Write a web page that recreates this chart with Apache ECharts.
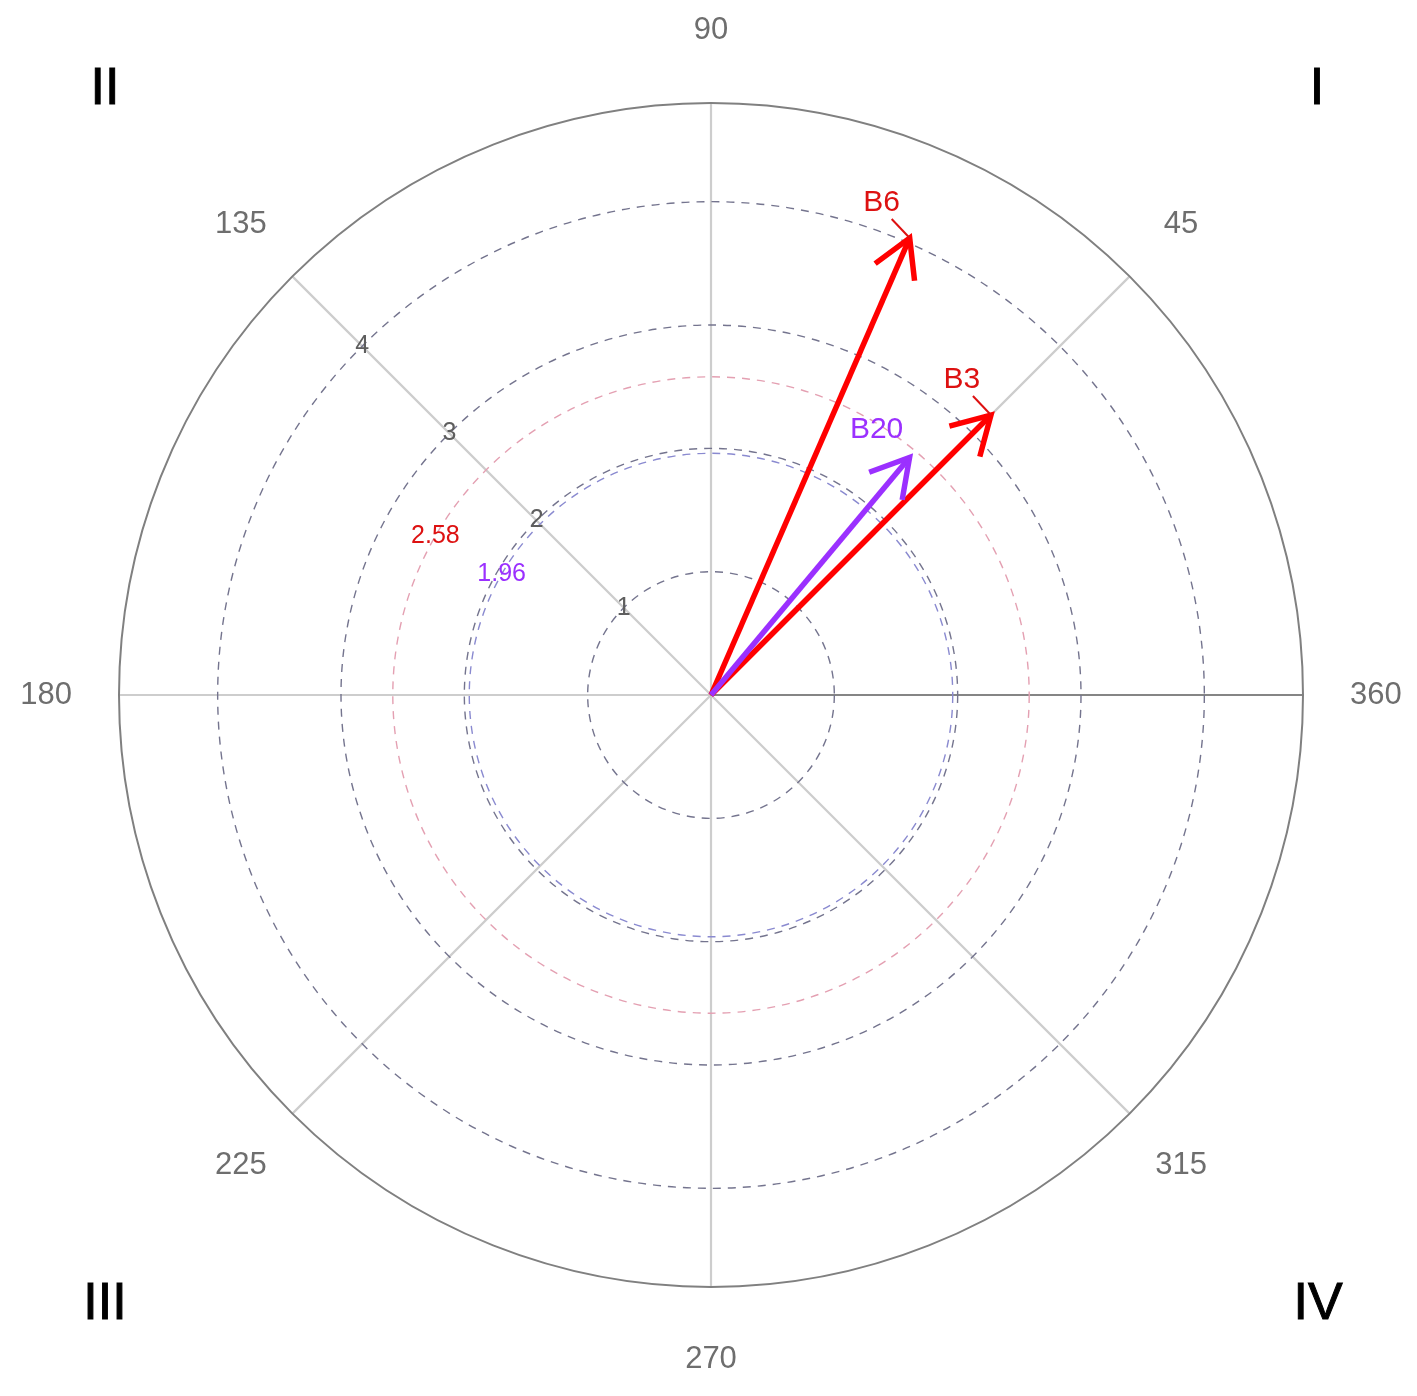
<!DOCTYPE html>
<html>
<head>
<meta charset="utf-8">
<script src="https://cdn.jsdelivr.net/npm/echarts@6/dist/echarts.min.js"></script>
<style>
html, body { margin: 0; padding: 0; background: #fff; }
#chart { width: 1417px; height: 1396px; }
</style>
</head>
<body>
<div id="chart"></div>
<script>
// data
var angleTicks = [45, 90, 135, 180, 225, 270, 315, 360];
var radiusTicks = [1, 2, 3, 4];
var critValues = [1.96, 2.58];
var critLabels = ['1.96', '2.58'];
var vecNames = ['B6', 'B3', 'B20'];
var vecLength = [4.04, 3.21, 2.51];
var vecAngle = [66.5, 45, 50.1];
var quadrants = ['I', 'II', 'III', 'IV'];

var FONT = '"Liberation Sans", Arial, sans-serif';
var critColor = ['#8a8ad0', '#e4a0b2'];
var critTextColor = ['#9b30ff', '#dd1111'];
var vecColor = ['#ff0000', '#ff0000', '#9b30ff'];
var vecTextColor = ['#dd1111', '#dd1111', '#9b30ff'];
var vecLabelOff = [[-28, -35], [-29, -35], [-33, -28]];
var vecLeader = [true, true, false];

var myChart = echarts.init(document.getElementById('chart'));

function ringItem(color) {
    return function (params, api) {
        var c = api.coord([0, 0]);
        var e = api.coord([api.value(0), 0]);
        return {
            type: 'circle',
            shape: { cx: c[0], cy: c[1], r: Math.abs(e[0] - c[0]) },
            style: { fill: 'none', stroke: typeof color === 'function' ? color(params.dataIndex) : color, lineWidth: 1.4, lineDash: [8, 7] },
            silent: true
        };
    };
}

function textItem(colorFn, size, labels) {
    return function (params, api) {
        var p = api.coord([api.value(0), api.value(1)]);
        return {
            type: 'text',
            x: p[0], y: p[1],
            style: {
                text: labels[params.dataIndex],
                fill: colorFn(params.dataIndex),
                font: size + 'px ' + FONT,
                align: 'center', verticalAlign: 'middle'
            },
            silent: true
        };
    };
}

var option = {
    animation: false,
    backgroundColor: '#ffffff',
    polar: { center: [711, 695], radius: 592 },
    angleAxis: {
        type: 'value', min: 0, max: 360, interval: 45,
        startAngle: 0, clockwise: false,
        axisLine: { lineStyle: { color: '#808080', width: 2 } },
        axisTick: { show: false },
        axisLabel: { show: false },
        splitLine: { show: true, lineStyle: { color: '#cdcdcd', width: 2.2 } }
    },
    radiusAxis: {
        type: 'value', min: 0, max: 4.8,
        axisLine: { lineStyle: { color: '#858585', width: 2 } },
        axisTick: { show: false },
        axisLabel: { show: false },
        splitLine: { show: false }
    },
    graphic: [
        { type: 'text', x: 1317, y: 90, style: { text: quadrants[0], font: '52px ' + FONT, fill: '#000', align: 'center', verticalAlign: 'middle', stroke: '#000', lineWidth: 1 } },
        { type: 'text', x: 105, y: 90, style: { text: quadrants[1], font: '52px ' + FONT, fill: '#000', align: 'center', verticalAlign: 'middle', stroke: '#000', lineWidth: 1 } },
        { type: 'text', x: 105, y: 1305, style: { text: quadrants[2], font: '52px ' + FONT, fill: '#000', align: 'center', verticalAlign: 'middle', stroke: '#000', lineWidth: 1 } },
        { type: 'text', x: 1318, y: 1305, style: { text: quadrants[3], font: '52px ' + FONT, fill: '#000', align: 'center', verticalAlign: 'middle', stroke: '#000', lineWidth: 1 } }
    ],
    series: [
        {   // grid rings
            type: 'custom', coordinateSystem: 'polar',
            data: radiusTicks.map(function (r) { return [r, 0]; }),
            renderItem: ringItem('#74748e')
        },
        {   // critical value rings
            type: 'custom', coordinateSystem: 'polar',
            data: critValues.map(function (r) { return [r, 0]; }),
            renderItem: ringItem(function (i) { return critColor[i]; })
        },
        {   // radius tick labels along 135 degrees
            type: 'custom', coordinateSystem: 'polar',
            data: radiusTicks.map(function (r) { return [r, 135]; }),
            renderItem: textItem(function () { return '#5e5e5e'; }, 25, radiusTicks.map(String))
        },
        {   // critical value labels
            type: 'custom', coordinateSystem: 'polar',
            data: critValues.map(function (r) { return [r, 150]; }),
            renderItem: textItem(function (i) { return critTextColor[i]; }, 25, critLabels)
        },
        {   // angle labels outside the circle
            type: 'custom', coordinateSystem: 'polar',
            data: angleTicks.map(function (a) { return [5.39, a]; }),
            renderItem: textItem(function () { return '#6e6e6e'; }, 31, angleTicks.map(String))
        },
        {   // vectors
            type: 'custom', coordinateSystem: 'polar', z: 5,
            data: vecLength.map(function (r, i) { return [r, vecAngle[i]]; }),
            renderItem: function (params, api) {
                var i = params.dataIndex;
                var p0 = api.coord([0, api.value(1)]);
                var p1 = api.coord([api.value(0), api.value(1)]);
                var dx = p1[0] - p0[0], dy = p1[1] - p0[1];
                var len = Math.sqrt(dx * dx + dy * dy);
                var bx = -dx / len, by = -dy / len;
                var L = 43, a = Math.PI / 6;
                function arm(s) {
                    var c = Math.cos(s * a), sn = Math.sin(s * a);
                    return [p1[0] + L * (bx * c - by * sn), p1[1] + L * (bx * sn + by * c)];
                }
                var col = vecColor[i];
                var children = [
                    { type: 'line', shape: { x1: p0[0], y1: p0[1], x2: p1[0], y2: p1[1] }, style: { stroke: col, lineWidth: 5.5 } },
                    { type: 'polyline', shape: { points: [arm(1), p1, arm(-1)] }, style: { stroke: col, lineWidth: 5.5, fill: 'none', lineJoin: 'miter' } },
                    { type: 'text', x: p1[0] + vecLabelOff[i][0], y: p1[1] + vecLabelOff[i][1],
                      style: { text: vecNames[i], fill: vecTextColor[i], font: '30px ' + FONT, align: 'center', verticalAlign: 'middle' } }
                ];
                if (vecLeader[i]) {
                    children.push({ type: 'line', shape: { x1: p1[0] - 18, y1: p1[1] - 19, x2: p1[0], y2: p1[1] }, style: { stroke: vecTextColor[i], lineWidth: 2 } });
                }
                return { type: 'group', children: children, silent: true };
            }
        }
    ]
};
myChart.setOption(option);
</script>
</body>
</html>
